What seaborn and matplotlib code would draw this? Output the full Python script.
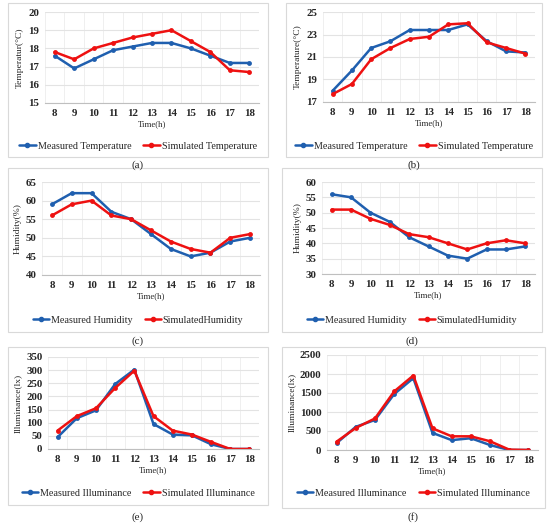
import numpy as np
import seaborn as sns
import matplotlib.pyplot as plt
from matplotlib.patches import Rectangle
from matplotlib.lines import Line2D

hours = list(range(8, 19))

temp_a_meas = [17.6, 16.9, 17.4, 17.9, 18.1, 18.3, 18.3, 18.0, 17.6, 17.2, 17.2]
temp_a_sim = [17.8, 17.4, 18.0, 18.3, 18.6, 18.8, 19.0, 18.4, 17.8, 16.8, 16.7]

temp_b_meas = [18.0, 19.8, 21.8, 22.4, 23.4, 23.4, 23.4, 23.9, 22.4, 21.5, 21.4]
temp_b_sim = [17.7, 18.6, 20.8, 21.8, 22.6, 22.8, 23.9, 24.0, 22.3, 21.8, 21.3]

hum_c_meas = [59, 62, 62, 57, 55, 51, 47, 45, 46, 49, 50]
hum_c_sim = [56, 59, 60, 56, 55, 52, 49, 47, 46, 50, 51]

hum_d_meas = [56, 55, 50, 47, 42, 39, 36, 35, 38, 38, 39]
hum_d_sim = [51, 51, 48, 46, 43, 42, 40, 38, 40, 41, 40]

ill_e_meas = [45, 117, 147, 247, 302, 95, 55, 52, 18, 0, 0]
ill_e_sim = [70, 125, 155, 232, 298, 125, 70, 55, 27, 0, 0]

ill_f_meas = [180, 610, 790, 1470, 1890, 450, 260, 310, 130, 0, 0]
ill_f_sim = [220, 580, 830, 1540, 1960, 570, 360, 360, 230, 10, 0]

BLUE = "#1F5FAF"
RED = "#EE1111"
W, H = 550, 524

sns.set_style("white")
plt.rcParams["font.family"] = ["Liberation Serif", "DejaVu Serif"]

fig = plt.figure(figsize=(W / 100, H / 100), dpi=100)


def px_axes(l, t, r, b):
    return fig.add_axes([l / W, 1 - b / H, (r - l) / W, (b - t) / H])


def panel(ax_box, frame, meas, sim, ylim, yticks, ylabel, names, letter, legend_y, letter_y):
    # cadre gris autour du graphique
    fl, ft, fr, fb = frame
    fig.patches.append(Rectangle((fl / W, 1 - fb / H), (fr - fl) / W, (fb - ft) / H,
                                 transform=fig.transFigure, fill=False,
                                 edgecolor="#D9D9D9", linewidth=0.8))
    ax = px_axes(*ax_box)
    sns.lineplot(x=hours, y=meas, ax=ax, color=BLUE, marker="o", markersize=3.5,
                 markeredgewidth=0, linewidth=1.8)
    sns.lineplot(x=hours, y=sim, ax=ax, color=RED, marker="o", markersize=3.5,
                 markeredgewidth=0, linewidth=1.8)
    ax.set_xlim(7.5, 18.5)
    ax.set_ylim(*ylim)
    ax.set_xticks(hours)
    ax.set_xticklabels([str(h) for h in hours], fontweight="bold", fontsize=7.8)
    ax.set_yticks(yticks)
    ax.set_yticklabels([str(v) for v in yticks], fontweight="bold", fontsize=7.8)
    ax.set_xticks(np.arange(7.5, 19, 1), minor=True)
    ax.grid(axis="y", which="major", color="#E3E3E3", linewidth=0.8)
    ax.grid(axis="x", which="minor", color="#EDEDED", linewidth=0.6)
    ax.tick_params(which="both", length=0, pad=4)
    for s in ["top", "right", "left"]:
        ax.spines[s].set_visible(False)
    ax.spines["bottom"].set_color("#BFBFBF")
    ax.spines["bottom"].set_linewidth(0.8)
    ax.set_xlabel("Time(h)", fontsize=6.3, labelpad=2)
    ax.set_ylabel(ylabel, fontsize=6.8, labelpad=3)

    handles = [Line2D([], [], color=BLUE, marker="o", markersize=3, linewidth=1.8),
               Line2D([], [], color=RED, marker="o", markersize=3, linewidth=1.8)]
    fig.legend(handles, names, loc="center", ncol=2, frameon=False,
               bbox_to_anchor=((fl + fr) / 2 / W, 1 - legend_y / H),
               fontsize=7.3, handlelength=1.6, handletextpad=0.2, columnspacing=1.2)
    fig.text((fl + fr) / 2 / W, 1 - letter_y / H, letter, ha="center", va="center",
             fontsize=8)
    return ax


panel((45, 12, 259, 103), (8, 3, 268, 157), temp_a_meas, temp_a_sim, (15, 20),
      [15, 16, 17, 18, 19, 20], "Temperatur(°C)",
      ["Measured Temperature", "Simulated Temperature"], "(a)", 146, 165)
panel((323, 12, 535, 102), (286, 3, 542, 157), temp_b_meas, temp_b_sim, (17, 25),
      [17, 19, 21, 23, 25], "Temperature(°C)",
      ["Measured Temperature", "Simulated Temperature"], "(b)", 146, 165)
panel((42, 182, 260, 275), (8, 168, 268, 332), hum_c_meas, hum_c_sim, (40, 65),
      [40, 45, 50, 55, 60, 65], "Humidity(%)",
      ["Measured Humidity", "SimulatedHumidity"], "(c)", 320, 341)
panel((322, 182, 535, 274), (282, 168, 542, 332), hum_d_meas, hum_d_sim, (30, 60),
      [30, 35, 40, 45, 50, 55, 60], "Humidity(%)",
      ["Measured Humidity", "SimulatedHumidity"], "(d)", 320, 341)
panel((48, 357, 259, 449), (8, 347, 268, 505), ill_e_meas, ill_e_sim, (0, 350),
      [0, 50, 100, 150, 200, 250, 300, 350], "Illuminance(lx)",
      ["Measured Illuminance", "Simulated Illuminance"], "(e)", 493, 517)
panel((327, 355, 538, 450), (282, 347, 545, 508), ill_f_meas, ill_f_sim, (0, 2500),
      [0, 500, 1000, 1500, 2000, 2500], "Illuminance(lx)",
      ["Measured Illuminance", "Simulated Illuminance"], "(f)", 493, 517)

fig.savefig("out.png", dpi=100)
